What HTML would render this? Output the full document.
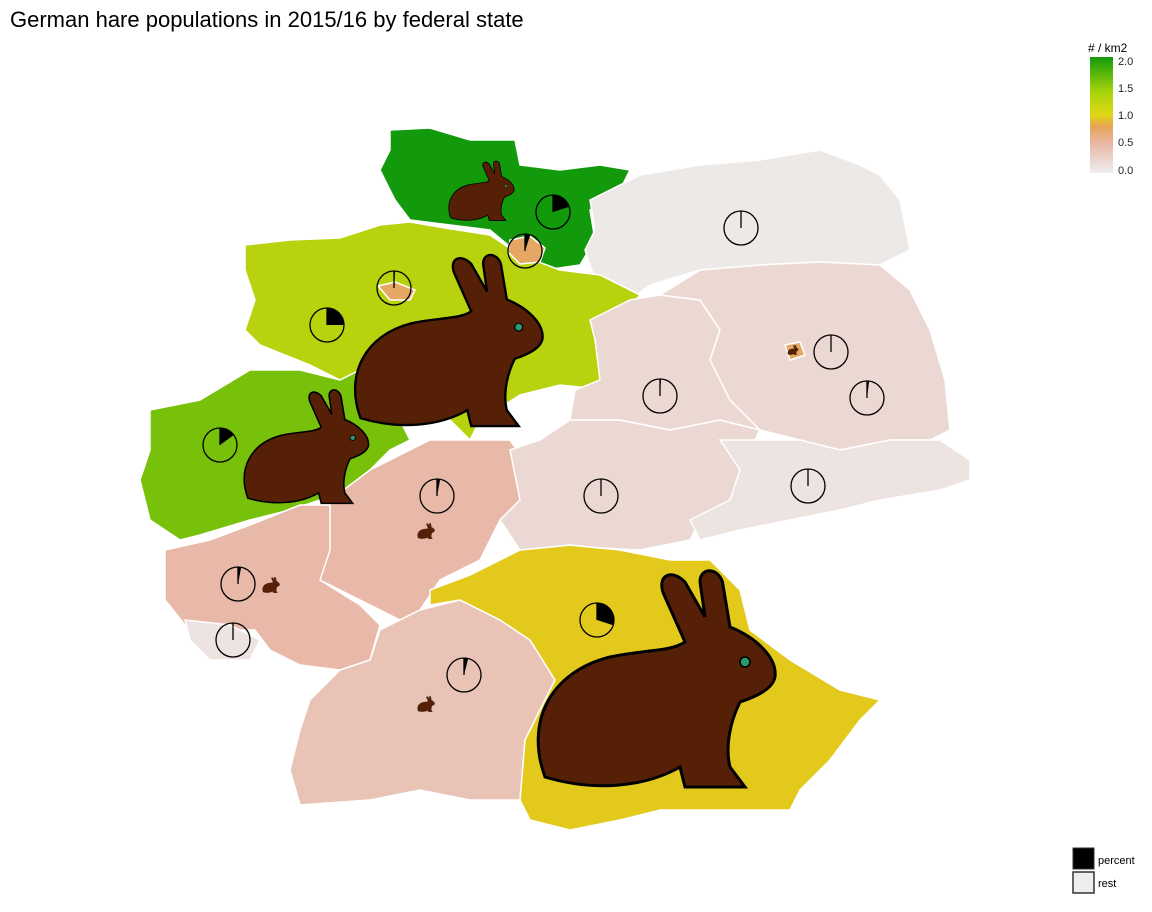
<!DOCTYPE html>
<html><head><meta charset="utf-8"><style>
body{margin:0;background:#fff;font-family:"Liberation Sans",sans-serif}
svg{display:block}
</style></head><body>
<svg id="map" width="1152" height="912" viewBox="0 0 1152 912">
<defs>
<linearGradient id="cb" x1="0" y1="1" x2="0" y2="0">
<stop offset="0" stop-color="#eeeeee"/><stop offset="0.25" stop-color="#e8b8a8"/><stop offset="0.4" stop-color="#e6a356"/><stop offset="0.5" stop-color="#e0d616"/><stop offset="0.7" stop-color="#a6d50a"/><stop offset="1" stop-color="#139a0c"/>
</linearGradient>
<symbol id="hare" viewBox="0 0 100 90">
<path d="M6,84 C-2,62 8,42 32,36 C46,33 56,34 62,30 L54,12 C50,4 56,0 62,6 L70,20 L68,6 C68,0 75,0 77,6 L80,24 C90,28 99,36 98,44 C97,49 90,52 84,54 C80,62 78,72 80,80 L86,88 L62,88 L60,80 C46,88 26,90 6,84 Z" fill="#562006" stroke="#000" stroke-width="1.2"/>
<circle cx="86" cy="38" r="2" fill="#2a9a70" stroke="#000" stroke-width="0.6"/>
</symbol>
</defs>
<text x="10" y="27" font-size="22" fill="#000">German hare populations in 2015/16 by federal state</text>
<g id="states" stroke="#fff" stroke-width="1.5"></g>
<g id="hares"></g>
<g id="pies"></g>
<g>
<text x="1088" y="52" font-size="12">#&#160;/&#160;km2</text>
<rect x="1090" y="57" width="23" height="116" fill="url(#cb)"/>
<g font-size="11" fill="#222">
<text x="1118" y="65">2.0</text><text x="1118" y="92">1.5</text><text x="1118" y="119">1.0</text><text x="1118" y="146">0.5</text><text x="1118" y="174">0.0</text>
</g>
</g>
<g>
<rect x="1073" y="848" width="21" height="21" fill="#000" stroke="#333"/>
<rect x="1073" y="872" width="21" height="21" fill="#eee" stroke="#333" stroke-width="1.5"/>
<text x="1098" y="864" font-size="11">percent</text>
<text x="1098" y="887" font-size="11">rest</text>
</g>
</svg>
<script>
const NS="http://www.w3.org/2000/svg";
const stateNames=["schleswig-holstein","mecklenburg-vorpommern","lower-saxony","north-rhine-westphalia","hesse","rhineland-palatinate","saarland","baden-wuerttemberg","bavaria","thuringia","saxony-anhalt","brandenburg","saxony","hamburg","bremen","berlin"];
const density=[2.0,0.05,1.3,1.6,0.5,0.5,0.1,0.4,1.0,0.2,0.2,0.2,0.1,0.75,0.75,0.75];
const shapes=[
"390,130 430,128 470,140 515,140 520,165 560,170 600,165 630,170 620,190 590,210 595,240 580,265 545,270 520,255 490,230 450,225 410,220 395,200 380,170 390,150",
"590,200 640,175 700,165 760,160 820,150 860,165 880,175 900,200 910,250 880,265 820,262 760,265 700,270 650,285 630,300 595,280 585,250 595,230",
"245,245 290,240 340,238 380,225 410,222 445,228 490,235 520,255 560,270 600,275 640,295 620,320 600,330 610,390 560,385 520,395 480,420 470,440 450,420 420,395 380,360 340,380 310,365 260,345 245,330 255,300 245,270",
"150,410 200,400 250,370 300,370 340,380 380,360 390,400 400,420 410,440 390,450 370,470 345,490 320,500 290,510 250,520 200,535 180,540 150,520 140,480 150,450",
"330,500 370,470 400,455 430,440 470,440 510,440 530,470 520,500 500,520 480,560 440,580 420,610 400,620 360,600 320,580 330,540",
"165,550 210,540 250,525 300,505 330,505 330,550 320,580 360,605 380,625 370,660 340,670 300,665 270,650 255,630 230,630 185,625 165,600",
"185,620 230,625 260,640 250,660 210,660 190,640",
"310,700 340,670 370,660 380,630 420,610 460,600 500,620 530,640 555,680 540,710 525,740 520,800 470,800 420,790 370,800 300,805 290,770 300,730",
"430,590 470,575 520,550 570,545 620,550 670,560 710,560 740,590 750,630 790,660 840,690 880,700 860,720 830,760 800,790 790,810 720,810 660,810 620,820 570,830 530,820 520,800 525,740 555,680 530,640 500,620 460,600 430,605",
"510,450 540,440 570,420 620,420 670,430 720,420 760,430 740,470 730,500 700,520 690,540 640,550 600,548 570,545 520,550 500,520 520,500",
"590,320 630,300 660,295 700,300 720,330 710,360 730,400 760,430 720,420 670,430 620,420 570,420 575,390 600,380 595,340",
"660,295 700,270 760,265 820,262 880,265 910,290 930,330 945,380 950,430 930,440 890,440 840,450 800,440 760,430 730,400 710,360 720,330 700,300",
"720,440 800,440 840,450 890,440 940,440 970,460 970,480 940,490 880,500 840,510 790,520 740,530 700,540 690,520 730,500 740,470",
"510,240 530,236 545,248 540,262 520,264 508,252",
"378,286 395,282 415,290 410,300 390,300",
"785,345 800,342 805,355 790,360"];
const pieX=[553,741,327,220,437,238,233,464,597,601,660,867,808,525,394,831];
const pieY=[212,228,325,445,496,584,640,675,620,496,396,398,486,251,288,352];
const percent=[20,0,25,15,3,3,0,4,30,0,1,2,0,5,1,0];
const hareX=[437,340,238,530,417,262,417,787];
const hareY=[160,252,388,552,522,576,695,345];
const hareW=[88,215,135,250,18,18,18,12];
const hareH=[62,178,118,255,18,18,18,10];
function colorFor(v){
 const stops=[[0,[238,238,238]],[0.5,[232,184,168]],[0.8,[230,163,86]],[1.0,[226,201,28]],[1.4,[170,213,10]],[2.0,[19,154,12]]];
 for(let i=1;i<stops.length;i++){if(v<=stops[i][0]){const a=stops[i-1],b=stops[i],t=(v-a[0])/(b[0]-a[0]);return "rgb("+a[1].map((c,k)=>Math.round(c+(b[1][k]-c)*t)).join(",")+")";}}
 return "rgb(19,154,12)";
}
const sg=document.getElementById("states");
shapes.forEach((s,i)=>{const p=document.createElementNS(NS,"polygon");p.setAttribute("points",s);p.setAttribute("fill",colorFor(density[i]));


sg.appendChild(p);});
const hg=document.getElementById("hares");
hareX.forEach((x,i)=>{const u=document.createElementNS(NS,"use");u.setAttribute("href","#hare");u.setAttribute("x",x);u.setAttribute("y",hareY[i]);u.setAttribute("width",hareW[i]);u.setAttribute("height",hareH[i]);u.setAttribute("preserveAspectRatio","none");


hg.appendChild(u);});
const pg=document.getElementById("pies");const R=17;
pieX.forEach((x,i)=>{const y=pieY[i];const g=document.createElementNS(NS,"g");


const c=document.createElementNS(NS,"circle");c.setAttribute("cx",x);c.setAttribute("cy",y);c.setAttribute("r",R);c.setAttribute("fill","none");c.setAttribute("stroke","#000");c.setAttribute("stroke-width","1.3");g.appendChild(c);
const a=percent[i]/100*2*Math.PI;
if(a>0){const ex=x+R*Math.sin(a),ey=y-R*Math.cos(a);const p=document.createElementNS(NS,"path");p.setAttribute("d",`M${x},${y} L${x},${y-R} A${R},${R} 0 ${a>Math.PI?1:0} 1 ${ex},${ey} Z`);p.setAttribute("fill","#000");g.appendChild(p);}
const l=document.createElementNS(NS,"line");l.setAttribute("x1",x);l.setAttribute("y1",y);l.setAttribute("x2",x);l.setAttribute("y2",y-R);l.setAttribute("stroke","#000");l.setAttribute("stroke-width","1.3");g.appendChild(l);
pg.appendChild(g);});
</script>
</body></html>
